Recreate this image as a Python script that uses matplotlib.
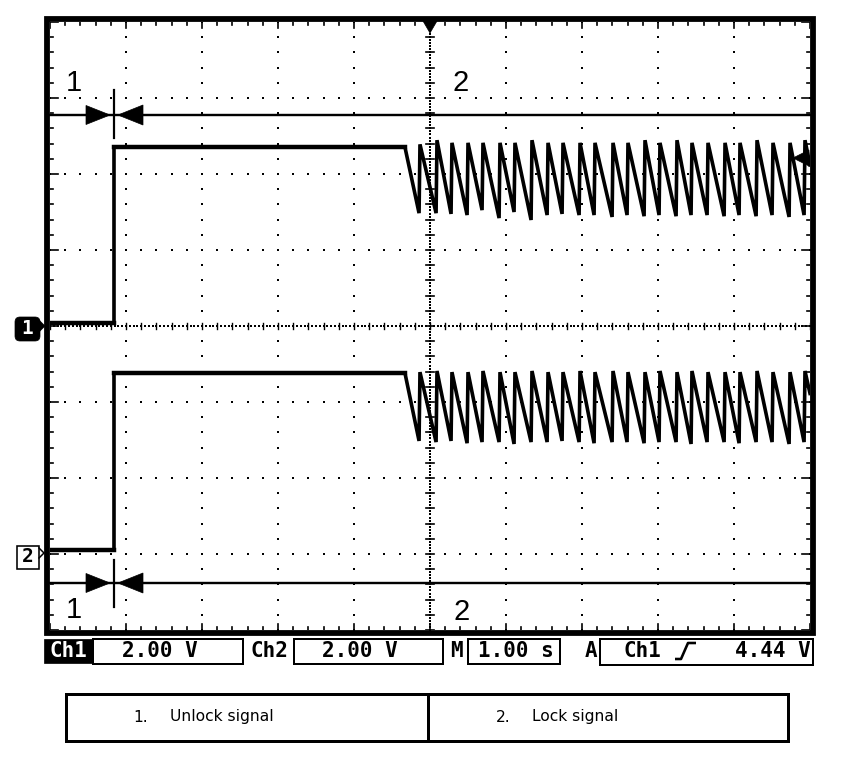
import numpy as np
import matplotlib
matplotlib.use("Agg")
import matplotlib.pyplot as plt
from matplotlib.patches import Rectangle, Polygon, FancyBboxPatch

# ---------------- data (time in s, 1 s/div; voltage in V, 2 V/div) ----------------
t_rise = 0.842          # both channels switch high
t_drop = 4.67           # lock/unlock starts pulsing
peak_t = [4.868, 5.092, 5.289, 5.500, 5.697, 5.921, 6.118, 6.342, 6.553, 6.750,
          6.974, 7.171, 7.408, 7.605, 7.829, 8.026, 8.250, 8.447, 8.658, 8.882,
          9.079, 9.303, 9.513, 9.737, 9.934]

ch1_low, ch1_high = 0.08, 4.71
ch1_peaks = [4.78, 4.89, 4.82, 4.82, 4.82, 4.82, 4.82, 4.89, 4.82, 4.82,
             4.82, 4.82, 4.82, 4.82, 4.89, 4.82, 4.89, 4.82, 4.82, 4.82,
             4.82, 4.89, 4.82, 4.82, 4.89]
ch1_troughs = [2.97, 2.97, 2.95, 2.92, 3.05, 2.84, 3.00, 2.79, 2.92, 2.95,
               2.92, 2.92, 2.87, 2.92, 2.89, 2.92, 2.89, 2.92, 2.92, 2.89,
               2.92, 2.89, 2.92, 2.87, 2.92]
ch1_end = 4.24

ch2_low, ch2_high = 0.08, 4.74
ch2_peaks = [4.76, 4.79, 4.76, 4.76, 4.79, 4.76, 4.76, 4.79, 4.76, 4.76,
             4.79, 4.76, 4.79, 4.76, 4.76, 4.79, 4.76, 4.79, 4.76, 4.76,
             4.76, 4.79, 4.76, 4.76, 4.79]
ch2_troughs = [2.95, 2.92, 2.95, 2.89, 2.92, 2.92, 2.87, 2.92, 2.92, 2.95,
               2.92, 2.89, 2.92, 2.92, 2.89, 2.92, 2.92, 2.87, 2.92, 2.92,
               2.89, 2.92, 2.92, 2.87, 2.92]
ch2_end = 4.20

ch1_offset_div = 4.0     # Ch1 ground marker position (div from bottom)
ch2_offset_div = 1.013   # Ch2 ground marker position
volts_per_div = 2.0

status_ch1 = "2.00 V"
status_ch2 = "2.00 V"
status_time = "1.00 s"
status_trig = "4.44 V"
legend_items = ["Unlock signal", "Lock signal"]


def build(low, high, troughs, peaks, end):
    t = [0.0, t_rise, t_rise, t_drop]
    v = [low, low, high, high]
    for i in range(len(peak_t)):
        t += [peak_t[i] - 0.012, peak_t[i]]
        v += [troughs[i], peaks[i]]
    t.append(10.0)
    v.append(end)
    return np.array(t), np.array(v)


W, H = 864, 764
fig = plt.figure(figsize=(W / 100, H / 100), dpi=100)
fig.patch.set_facecolor("white")

# inner graticule area in pixels: x 50..810, y 22..630
ax = fig.add_axes([50 / W, (H - 630) / H, 760 / W, 608 / H])
ax.set_xlim(0, 10)
ax.set_ylim(0, 8)
ax.axis("off")

# ---- graticule dots ----
minor = np.arange(0, 10.001, 0.2)
minor_y = np.arange(0, 8.001, 0.2)
for gx in range(1, 10):
    if gx == 5:
        continue
    ax.plot(np.full_like(minor_y, gx), minor_y, ls="none", marker="s", ms=1.8,
            color="black", mew=0)
for gy in range(1, 8):
    if gy == 4:
        continue
    ax.plot(minor, np.full_like(minor, gy), ls="none", marker="s", ms=1.8,
            color="black", mew=0)
# centre vertical line (dense, cursor 2)
dense_y = np.arange(0, 8.001, 0.04)
ax.plot(np.full_like(dense_y, 5), dense_y, ls="none", marker="s", ms=1.7,
        color="black", mew=0)
for yy in minor_y:
    ax.plot([4.95, 5.05], [yy, yy], color="black", lw=1.2)
# centre horizontal line
dense_x = np.arange(0, 10.001, 0.05)
ax.plot(dense_x, np.full_like(dense_x, 4), ls="none", marker="s", ms=1.5,
        color="black", mew=0)
for xx in minor:
    ax.plot([xx, xx], [3.96, 4.04], color="black", lw=1.0)
# edge ticks
for xx in minor:
    L = 0.08 if abs(xx - round(xx)) < 1e-6 else 0.045
    ax.plot([xx, xx], [8, 8 - L], color="black", lw=1.2)
    ax.plot([xx, xx], [0, L], color="black", lw=1.2)
for yy in minor_y:
    L = 0.1 if abs(yy - round(yy)) < 1e-6 else 0.045
    ax.plot([0, L], [yy, yy], color="black", lw=1.2)
    ax.plot([10, 10 - L], [yy, yy], color="black", lw=1.2)

# ---- traces ----
t1, v1 = build(ch1_low, ch1_high, ch1_troughs, ch1_peaks, ch1_end)
t2, v2 = build(ch2_low, ch2_high, ch2_troughs, ch2_peaks, ch2_end)
ax.plot(t1, ch1_offset_div + v1 / volts_per_div, color="black", lw=2.6,
        solid_joinstyle="miter")
ax.plot(t2, ch2_offset_div + v2 / volts_per_div, color="black", lw=2.6,
        solid_joinstyle="miter")
# noisy flat parts look thicker
ax.plot([0, t_rise], [ch1_offset_div + ch1_low / 2] * 2, color="black", lw=3.2)
ax.plot([t_rise, t_drop], [ch1_offset_div + ch1_high / 2] * 2, color="black", lw=3.2)
ax.plot([0, t_rise], [ch2_offset_div + ch2_low / 2] * 2, color="black", lw=3.2)
ax.plot([t_rise, t_drop], [ch2_offset_div + ch2_high / 2] * 2, color="black", lw=3.2)
# thin vertical step edges
ax.plot([t_rise, t_rise], [ch1_offset_div + ch1_low / 2, ch1_offset_div + ch1_high / 2],
        color="black", lw=1.5)
ax.plot([t_rise, t_rise], [ch2_offset_div + ch2_low / 2, ch2_offset_div + ch2_high / 2],
        color="black", lw=1.5)

# ---------------- overlay in pixel coordinates ----------------
ov = fig.add_axes([0, 0, 1, 1])
ov.set_xlim(0, W)
ov.set_ylim(H, 0)
ov.axis("off")

px = 72 / 100  # points per pixel

# frame
ov.add_patch(Rectangle((47, 19), 765.5, 613.5, fill=False, lw=5.8 * px,
                       ec="black", joinstyle="miter"))

# horizontal cursors
for cy in (115, 583):
    ov.plot([50, 810], [cy, cy], color="black", lw=2.4 * px)
    ov.add_patch(Polygon([(86, cy - 9.5), (86, cy + 9.5), (110, cy)],
                         closed=True, fc="black", ec="black", lw=0.5))
    ov.add_patch(Polygon([(143, cy - 10), (143, cy + 10), (118, cy)],
                         closed=True, fc="black", ec="black", lw=0.5))
ov.plot([113.5, 113.5], [90, 138], color="black", lw=2.2 * px)
ov.plot([113.5, 113.5], [560, 607], color="black", lw=2.2 * px)

lab_font = dict(family="Liberation Sans", fontsize=21, color="black",
                ha="center", va="center")
ov.text(74, 83, "1", **lab_font)
ov.text(461, 83, "2", **lab_font)
ov.text(74, 610, "1", **lab_font)
ov.text(462, 612, "2", **lab_font)

# trigger position marker (top) and trigger level marker (right)
ov.add_patch(Polygon([(423, 21), (437, 21), (430, 33)], closed=True,
                     fc="black", ec="black", lw=0.5))
ov.add_patch(Polygon([(809, 150), (809, 166), (793, 158)], closed=True,
                     fc="black", ec="black", lw=0.5))

# channel ground markers
ov.add_patch(FancyBboxPatch((17, 319), 21, 20, boxstyle="round,pad=2,rounding_size=5",
                            fc="black", ec="black", lw=0.5))
ov.add_patch(Polygon([(39, 320), (39, 332), (45, 326)], closed=True,
                     fc="black", ec="black", lw=0.5))
ov.text(27.5, 329, "1", color="white", fontsize=14, fontweight="bold",
        family="DejaVu Sans Mono", ha="center", va="center")
ov.add_patch(Rectangle((16.5, 545.5), 22, 23, fill=False, ec="black", lw=1.6 * px))
ov.plot([39, 44, 39], [548, 553, 558], color="black", lw=1.5 * px)
ov.text(27.5, 557, "2", color="black", fontsize=14, fontweight="bold",
        family="DejaVu Sans Mono", ha="center", va="center")

# status bar
sb_font = dict(family="DejaVu Sans Mono", fontsize=15, fontweight="bold",
               va="center", ha="center")
sy0, sy1 = 639, 664
ov.add_patch(Rectangle((44, sy0), 48, sy1 - sy0 - 1, fc="black", ec="black", lw=0.5))
ov.text(68, 651, "Ch1", color="white", **sb_font)
ov.add_patch(Rectangle((93, sy0), 150, sy1 - sy0, fill=False, ec="black", lw=2 * px))
ov.text(160, 651, status_ch1, color="black", **sb_font)
ov.text(269, 651, "Ch2", color="black", **sb_font)
ov.add_patch(Rectangle((294, sy0), 149, sy1 - sy0, fill=False, ec="black", lw=2 * px))
ov.text(360, 651, status_ch2, color="black", **sb_font)
ov.text(456, 651, "M", color="black", **sb_font)
ov.add_patch(Rectangle((468, sy0), 92, sy1 - sy0, fill=False, ec="black", lw=2 * px))
ov.text(516, 651, status_time, color="black", **sb_font)
ov.text(591, 651, "A", color="black", **sb_font)
ov.add_patch(Rectangle((600, sy0), 213, sy1 - sy0 + 1, fill=False, ec="black", lw=2 * px))
ov.text(642, 651, "Ch1", color="black", **sb_font)
ov.plot([675, 681, 688, 696], [659, 659, 643, 643], color="black", lw=2.6 * px,
        solid_capstyle="butt")
ov.text(773, 651, status_trig, color="black", **sb_font)

# legend table
ov.add_patch(Rectangle((66, 694), 722, 47, fill=False, ec="black", lw=3 * px,
                       joinstyle="miter"))
ov.plot([428, 428], [694, 741], color="black", lw=3 * px)
tf = dict(family="DejaVu Sans", fontsize=11.2, color="black", va="center", ha="left")
ov.text(133, 717, "1.", **tf)
ov.text(170, 717, legend_items[0], **tf)
ov.text(496, 717, "2.", **tf)
ov.text(532, 717, legend_items[1], **tf)

fig.savefig("out.png", dpi=100, facecolor="white")
